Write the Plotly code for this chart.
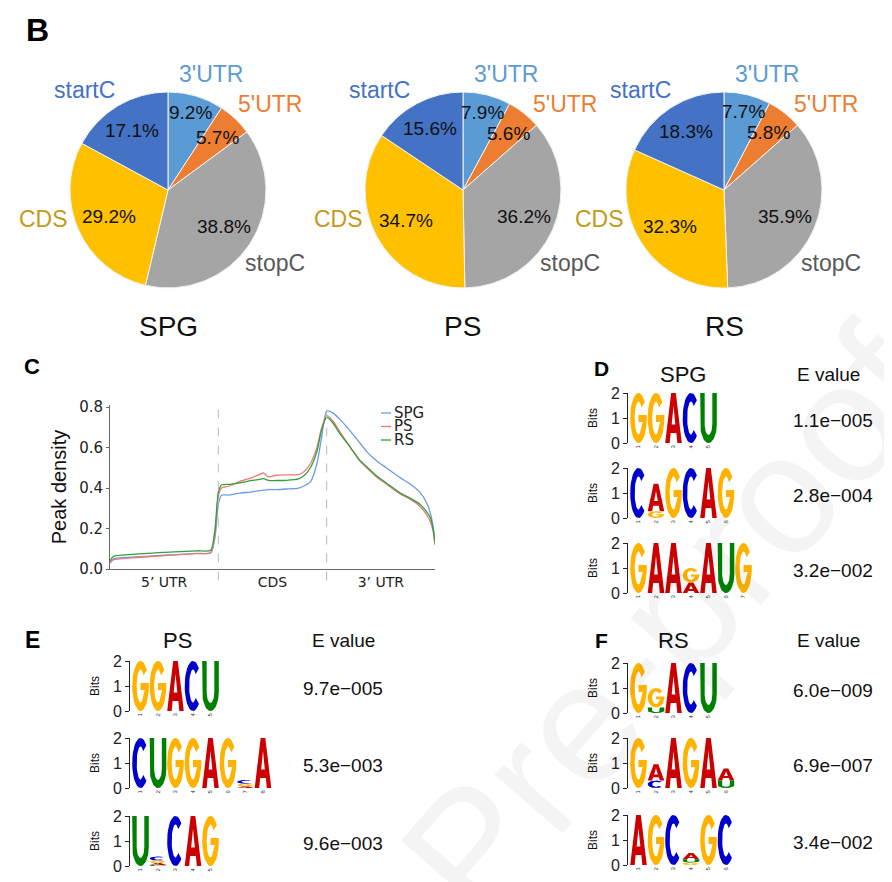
import numpy as np
import plotly.graph_objects as go

# the page body adds an 8 px margin, so the figure is 8 px smaller than the window
OFF = 8
W, H = 892 - OFF, 882 - OFF

# ---------------- DATA ----------------
regions = ["3'UTR", "5'UTR", "stopC", "CDS", "startC"]
pie_groups = ["SPG", "PS", "RS"]
spg_pct = [9.2, 5.7, 38.8, 29.2, 17.1]
ps_pct = [7.9, 5.6, 36.2, 34.7, 15.6]
rs_pct = [7.7, 5.8, 35.9, 32.3, 18.3]

metagene_x = [0.0, 0.03, 0.2, 0.5, 0.8, 0.93, 0.97, 1.0, 1.03, 1.1, 1.2, 1.3, 1.35, 1.42,
              1.46, 1.54, 1.63, 1.74, 1.79, 1.85, 1.91, 1.95, 2.0, 2.06, 2.12, 2.22, 2.31,
              2.37, 2.46, 2.55, 2.68, 2.77, 2.86, 2.92, 2.96, 2.985, 3.0]
spg_density = [0.03, 0.05, 0.058, 0.068, 0.077, 0.08, 0.16, 0.32, 0.365, 0.365, 0.375, 0.38,
               0.385, 0.39, 0.392, 0.392, 0.395, 0.40, 0.41, 0.43, 0.52, 0.64, 0.78, 0.77,
               0.74, 0.68, 0.62, 0.58, 0.535, 0.50, 0.45, 0.42, 0.38, 0.33, 0.27, 0.20, 0.12]
ps_density = [0.03, 0.045, 0.055, 0.066, 0.076, 0.08, 0.18, 0.36, 0.40, 0.41, 0.433, 0.449,
              0.46, 0.474, 0.455, 0.463, 0.465, 0.466, 0.48, 0.52, 0.60, 0.69, 0.757, 0.73,
              0.68, 0.60, 0.53, 0.50, 0.455, 0.42, 0.37, 0.345, 0.31, 0.27, 0.23, 0.18, 0.12]
rs_density = [0.04, 0.062, 0.072, 0.082, 0.09, 0.092, 0.20, 0.38, 0.415, 0.418, 0.425, 0.436,
              0.44, 0.446, 0.438, 0.437, 0.438, 0.445, 0.46, 0.50, 0.58, 0.68, 0.75, 0.72,
              0.67, 0.60, 0.535, 0.505, 0.46, 0.425, 0.375, 0.35, 0.32, 0.285, 0.25, 0.19, 0.13]
metagene_tickvals = [0.5, 1.5, 2.5]
metagene_ticks = ["5’ UTR", "CDS", "3’ UTR"]
density_ticks = [0.0, 0.2, 0.4, 0.6, 0.8]

# motif columns: letter -> information (bits)
spg_motifs = [
    [{"G": 2.0}, {"G": 2.0}, {"A": 2.0}, {"C": 2.0}, {"U": 2.0}],
    [{"C": 2.0}, {"G": 0.27, "A": 1.1}, {"G": 2.0}, {"C": 2.0}, {"A": 2.0}, {"G": 2.0}],
    [{"G": 2.0}, {"A": 2.0}, {"A": 2.0}, {"A": 0.42, "G": 0.58}, {"A": 2.0}, {"U": 2.0}, {"G": 2.0}],
]
spg_evalues = ["1.1e−005", "2.8e−004", "3.2e−002"]
ps_motifs = [
    [{"G": 2.0}, {"G": 2.0}, {"A": 2.0}, {"C": 2.0}, {"U": 2.0}],
    [{"C": 2.0}, {"U": 2.0}, {"G": 2.0}, {"G": 2.0}, {"A": 2.0}, {"G": 2.0},
     {"A": 0.07, "G": 0.1, "C": 0.15}, {"A": 2.0}],
    [{"U": 2.0}, {"U": 0.04, "A": 0.08, "G": 0.1, "C": 0.16}, {"C": 2.0}, {"A": 2.0}, {"G": 2.0}],
]
ps_evalues = ["9.7e−005", "5.3e−003", "9.6e−003"]
rs_motifs = [
    [{"G": 2.0}, {"U": 0.22, "G": 0.78}, {"A": 2.0}, {"C": 2.0}, {"U": 2.0}],
    [{"G": 2.0}, {"C": 0.3, "A": 0.65}, {"A": 2.0}, {"G": 2.0}, {"A": 2.0}, {"U": 0.3, "A": 0.48}],
    [{"A": 2.0}, {"G": 2.0}, {"C": 2.0}, {"G": 0.1, "U": 0.13, "A": 0.25}, {"G": 2.0}, {"C": 2.0}],
]
rs_evalues = ["6.0e−009", "6.9e−007", "3.4e−002"]

# ---------------- STYLE / LAYOUT ----------------
slice_colors = ["#5B9BD5", "#ED7D31", "#A5A5A5", "#FFC000", "#4472C4"]
label_colors = ["#5B9BD5", "#ED7D31", "#595959", "#C49A1C", "#4472C4"]
label_angles = [20.5, 50.0, 124.5, 257.0, 320.0]
label_radii = [1.26, 1.36, 1.32, 1.30, 1.33]
pct_radii = [0.82, 0.74, 0.68, 0.66, 0.71]
pie_centers = [(168, 190), (463, 190), (724, 190)]
PIE_R = 98

line_colors = {"SPG": "#6A9BE6", "PS": "#EE7B78", "RS": "#2FA03C"}
letter_colors = {"A": "#CC0000", "C": "#0000CC", "G": "#FFB300", "U": "#008000"}
FONT = "Liberation Sans, Arial, sans-serif"
DFONT = "DejaVu Sans, sans-serif"


def px(x):
    return (x - OFF) / W


def py(y):
    return 1 - (y - OFF) / H


def note(x, y, text, size, color="#111", family=FONT, xanchor="center", **kw):
    return dict(x=px(x), y=py(y), xref="paper", yref="paper", text=text, showarrow=False,
                xanchor=xanchor, yanchor="middle", font=dict(family=family, size=size, color=color), **kw)


fig = go.Figure()
annotations = []
shapes = []

# watermark
annotations.append(note(470, 850, "Journal Pre-proof", 170, color="rgba(0,0,0,0.045)", textangle=-49))

# ---------------- PIES ----------------
for g, vals, (cx, cy) in zip(pie_groups, [spg_pct, ps_pct, rs_pct], pie_centers):
    fig.add_trace(go.Pie(
        values=vals, labels=regions, sort=False, direction="clockwise", rotation=0,
        marker=dict(colors=slice_colors, line=dict(color="#F2F2F2", width=1)),
        textinfo="none", hoverinfo="label+percent", showlegend=False,
        domain=dict(x=[px(cx - PIE_R), px(cx + PIE_R)], y=[py(cy + PIE_R), py(cy - PIE_R)]),
    ))
    total = float(sum(vals))
    cum = 0.0
    for j, v in enumerate(vals):
        mid = (cum + v / 2) / total * 2 * np.pi
        cum += v
        rr = pct_radii[j] * PIE_R
        annotations.append(note(cx + rr * np.sin(mid), cy - rr * np.cos(mid), f"{v:.1f}%", 19))
        la = np.radians(label_angles[j])
        lr = label_radii[j] * PIE_R
        annotations.append(note(cx + lr * np.sin(la), cy - lr * np.cos(la), regions[j], 23,
                                color=label_colors[j]))
    annotations.append(note(cx, 326, g, 28))

# ---------------- METAGENE LINE CHART ----------------
series = [("SPG", spg_density), ("PS", ps_density), ("RS", rs_density)]
for name, dens in series:
    fig.add_trace(go.Scatter(
        x=metagene_x, y=dens, mode="lines", name=name, xaxis="x", yaxis="y", showlegend=False,
        line=dict(color=line_colors[name], width=1.3, shape="spline", smoothing=0.6)))

# compact legend (short swatches as in the original)
for k, (name, _) in enumerate(series):
    ly = 413 + 13.5 * k
    shapes.append(dict(type="line", xref="paper", yref="paper", x0=px(381), x1=px(391),
                       y0=py(ly), y1=py(ly), line=dict(color=line_colors[name], width=1.3)))
    annotations.append(note(392, ly, name, 15, color="#222", family=DFONT, xanchor="left"))

layout_axes = dict(
    xaxis=dict(domain=[px(110), px(435)], range=[0, 3], anchor="y", showgrid=False, zeroline=False,
               showline=True, linecolor="#666", linewidth=1, tickvals=metagene_tickvals,
               ticktext=metagene_ticks, ticks="", tickfont=dict(family=DFONT, size=14, color="#222")),
    yaxis=dict(domain=[py(569), py(405)], range=[0, 0.81], anchor="x", showgrid=False, zeroline=False,
               showline=True, linecolor="#666", linewidth=1, tickvals=density_ticks,
               ticktext=[f"{t:.1f}" for t in density_ticks], ticks="outside", ticklen=3,
               tickcolor="#666", tickfont=dict(family=DFONT, size=15, color="#222"),
               title=dict(text="Peak density", font=dict(family=FONT, size=20, color="#111"),
                          standoff=7)),
)
for xb in [1, 2]:
    shapes.append(dict(type="line", xref="x", yref="y domain", x0=xb, x1=xb, y0=-0.07, y1=1.0,
                       line=dict(color="#BBBBBB", width=1, dash="dash")))

# ---------------- SEQUENCE LOGOS ----------------

def arc(cx, cy, rx, ry, t0, t1, n=28):
    t = np.radians(np.linspace(t0, t1, n))
    return list(zip(cx + rx * np.cos(t), cy + ry * np.sin(t)))


A_outer = [(0, 0), (0.27, 0), (0.33, 0.2), (0.67, 0.2), (0.73, 0), (1, 0), (0.64, 1), (0.36, 1), (0, 0)]
A_inner = [(0.39, 0.37), (0.5, 0.74), (0.61, 0.37), (0.39, 0.37)]
GLYPHS = {
    "A": A_outer + A_inner + [(0, 0)],
    "C": arc(0.5, 0.5, 0.5, 0.5, 45, 315) + arc(0.5, 0.5, 0.23, 0.33, 315, 45),
    "G": arc(0.5, 0.5, 0.5, 0.5, 40, 360) + [(1.0, 0.56), (0.5, 0.56), (0.5, 0.42), (0.75, 0.42)]
         + arc(0.5, 0.5, 0.23, 0.33, 335, 40),
    "U": [(0, 1), (0, 0.38)] + arc(0.5, 0.38, 0.5, 0.38, 180, 360) + [(1, 1), (0.73, 1), (0.73, 0.38)]
         + arc(0.5, 0.38, 0.23, 0.22, 360, 180) + [(0.27, 1)],
}

COLW = 17.5
LOGO_H = 50
logo_panels = [
    ("SPG", spg_motifs, spg_evalues, 628, [443, 518, 593], 683, 374, 828, 833),
    ("PS", ps_motifs, ps_evalues, 130, [711, 788, 866], 177, 640, 343, 343),
    ("RS", rs_motifs, rs_evalues, 628, [713, 788, 865], 673, 640, 828, 833),
]

ax_i = 2
for title, motifs, evals, ax_px, zeros, tx, ty, evx, evvx in logo_panels:
    annotations.append(note(tx, ty, title, 22))
    annotations.append(note(evx, ty, "E value", 19))
    for motif, ev, z in zip(motifs, evals, zeros):
        n = len(motif)
        xa, ya = f"x{ax_i}", f"y{ax_i}"
        per_color = {L: ([], []) for L in letter_colors}
        for i, col in enumerate(motif, start=1):
            base = 0.0
            for L, h in sorted(col.items(), key=lambda kv: kv[1]):
                for gx, gy in GLYPHS[L]:
                    per_color[L][0].append(i - 0.475 + gx * 0.95)
                    per_color[L][1].append(base + gy * h)
                per_color[L][0].append(None)
                per_color[L][1].append(None)
                base += h
        for L, (xs, ys) in per_color.items():
            if xs:
                fig.add_trace(go.Scatter(
                    x=xs, y=ys, xaxis=xa, yaxis=ya, mode="lines", fill="toself",
                    fillcolor=letter_colors[L], line=dict(width=0, color=letter_colors[L]),
                    hoverinfo="skip", showlegend=False))
        layout_axes[f"xaxis{ax_i}"] = dict(
            domain=[px(ax_px), px(ax_px + (n + 0.1) * COLW)], range=[0.4, n + 0.5], anchor=ya,
            showgrid=False, zeroline=False, showline=False, ticks="",
            tickvals=list(range(1, n + 1)), ticktext=[str(k) for k in range(1, n + 1)],
            tickangle=-90, tickfont=dict(family=FONT, size=6, color="#333"), fixedrange=True)
        layout_axes[f"yaxis{ax_i}"] = dict(
            domain=[py(z), py(z - LOGO_H)], range=[0, 2], anchor=xa, showgrid=False, zeroline=False,
            showline=True, linecolor="#222", linewidth=1, ticks="outside", ticklen=4, tickcolor="#222",
            tickvals=[0, 1, 2], tickfont=dict(family=FONT, size=16, color="#222"),
            title=dict(text="Bits", font=dict(family=FONT, size=12, color="#111"), standoff=10),
            fixedrange=True)
        annotations.append(note(evvx, z - 23, ev, 19))
        ax_i += 1

# ---------------- PANEL LETTERS ----------------
for lab, lx, ly, sz in [("B", 38, 30, 32), ("C", 32, 366, 22), ("D", 601, 368, 21),
                        ("E", 32, 640, 23), ("F", 601, 640, 21)]:
    annotations.append(note(lx, ly, f"<b>{lab}</b>", sz, color="#000"))

fig.update_layout(
    width=W, height=H, margin=dict(l=0, r=0, t=0, b=0, autoexpand=False),
    paper_bgcolor="white", plot_bgcolor="white", showlegend=False,
    annotations=annotations, shapes=shapes,
    **layout_axes,
)

fig.write_html("out.html")
